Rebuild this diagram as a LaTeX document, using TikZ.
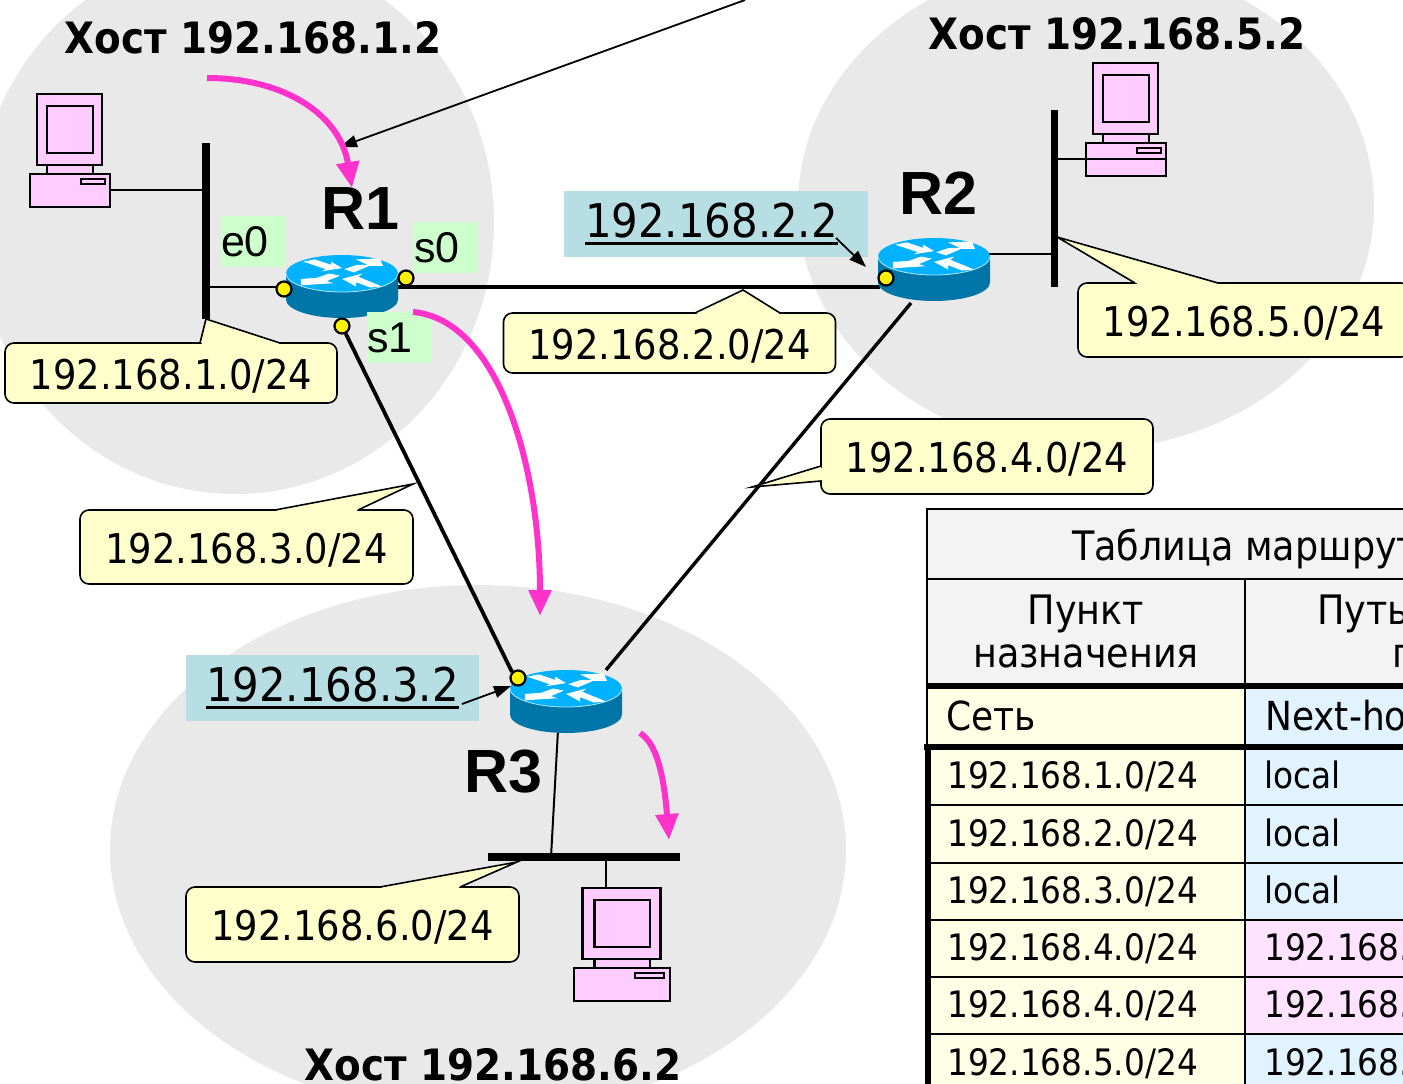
\documentclass[tikz,border=0pt]{standalone}
\usepackage{fontspec}
\usetikzlibrary{arrows.meta,calc}
\setmainfont{DejaVu Sans}[FakeStretch=0.9]
\newfontfamily\arialf{Liberation Sans}
\definecolor{hostgray}{HTML}{E9E9E9}
\definecolor{noteyellow}{HTML}{FFFFCC}
\definecolor{labelblue}{HTML}{B7DEE3}
\definecolor{labelgreen}{HTML}{CCFFCC}
\definecolor{pcpink}{HTML}{FFCCFF}
\definecolor{flowpink}{HTML}{FF33CC}
\definecolor{routertop}{HTML}{00B2FF}
\definecolor{routerside}{HTML}{0076A8}
\definecolor{headgray}{HTML}{F3F3F3}
\definecolor{celly}{HTML}{FFFFE5}
\definecolor{cellb}{HTML}{E1F3FF}
\definecolor{cellp}{HTML}{FFE2FF}
\newcommand{\fsz}[1]{\fontsize{#1}{#1}\selectfont}
\newcommand{\ulabel}[1]{\setbox0\hbox{#1}\rlap{\copy0}\rule[-7pt]{\wd0}{3pt}}
\newcommand{\notewedge}[3]{%
  \fill[noteyellow] #1 -- #2 -- #3 -- cycle;
  \draw[noteyellow,line width=3pt,shorten <=1.5pt,shorten >=1.5pt] #1 -- #3;
  \draw[line width=1.6pt,line join=miter] #1 -- #2 -- #3;}
\tikzset{
  x=1pt,y=-1pt,
  host/.style={fill=hostgray,draw=none},
  note/.style={draw,line width=1.6pt,fill=noteyellow,rounded corners=9pt,inner sep=0pt,text height=32pt,text depth=0pt,font=\fsz{41}},
  bar/.style={fill=black,draw=none,inner sep=0pt},
  thinlink/.style={line width=2pt},
  thicklink/.style={line width=3.8pt},
  port/.style={circle,fill=yellow,draw=black,line width=2.2pt,minimum size=15pt,inner sep=0pt},
  ifacelabel/.style={fill=labelgreen,minimum width=64pt,minimum height=51pt,inner sep=0pt,font=\arialf\fsz{43}},
  addrlabel/.style={fill=labelblue,inner sep=0pt,font=\fsz{46.5}},
  flow/.style={draw=flowpink,line width=6pt,-{Triangle[length=26pt,width=22pt]}},
  hosttitle/.style={inner sep=0pt,font=\bfseries\fsz{43.2}},
  rname/.style={inner sep=0pt,font=\arialf\bfseries\fsz{61}},
  tblline/.style={line width=2.8pt},
  tblthick/.style={line width=5.5pt},
  tbltext/.style={inner sep=0pt,anchor=base west,font=\fsz{36.4}},
  tblcenter/.style={inner sep=0pt,anchor=base,font=\fsz{40.6}},
  pointer/.style={line width=1.8pt,-{Triangle[length=17pt,width=12pt]}},
  router/.pic={
    \fill[routerside] (-56,0) -- (-56,26) arc[x radius=56,y radius=18.5,start angle=180,end angle=0] -- (56,0) -- cycle;
    \fill[routertop] (0,0) ellipse[x radius=56,y radius=18.5];
    \draw[white!70!routertop,line width=.8pt] (-56,0) arc[x radius=56,y radius=18.5,start angle=180,end angle=0];
    \begin{scope}[scale=1.08]
    \fill[white] (-36,-11) -- (-25,-13) -- (-10,-8) -- (-10,-11) -- (0,-5) -- (-19,-2) -- (-15,-4) -- cycle;
    \fill[white] (2,-4) -- (14,-8) -- (24,-8) -- (13,-13) -- (35,-14) -- (38,-7) -- (25,-7) -- (11,-1) -- cycle;
    \fill[white] (-2,2) -- (-14,7) -- (-8,9) -- (-24,10) -- (-38,11) -- (-38,5) -- (-23,4) -- (-12,0) -- cycle;
    \fill[white] (37,12) -- (26,13) -- (13,8) -- (13,12) -- (0,5) -- (19,0) -- (15,3) -- cycle;
    \end{scope}
  },
  pc/.pic={
    \begin{scope}[draw=black,fill=pcpink,line width=2.2pt]
    \filldraw (17,-10) rectangle (63,1);
    \filldraw (7,-80) rectangle (72,-9);
    \filldraw (17,-68) rectangle (63,-21);
    \filldraw (0,0) rectangle (80,33);
    \filldraw (51,5) rectangle (75,10);
    \end{scope}
    \coordinate (-east) at (80,16);
    \coordinate (-top) at (27,-80);
  }
}
\begin{document}
\begin{tikzpicture}
\useasboundingbox (0,0) rectangle (1403,1084);
\clip (0,0) rectangle (1403,1084);
% host areas
\fill[host] (235,222) ellipse[x radius=259,y radius=272];
\fill[host] (1086,205) ellipse[x radius=288,y radius=245];
\fill[host] (478,850) ellipse[x radius=368,y radius=265];
% table
\fill[headgray] (927,509) rectangle (1410,686);
\fill[celly] (927,686) rectangle (1245,1090);
\fill[cellb] (1245,686) rectangle (1410,920);
\fill[cellp] (1245,920) rectangle (1410,1034);
\fill[cellb] (1245,1034) rectangle (1410,1090);
\draw[tblline] (1410,509) -- (927,509) -- (927,747);
\draw[tblline] (927,579) -- (1410,579);
\draw[tblline] (1245,579) -- (1245,1090);
\foreach \ya in {805,863,920,977,1034}{\draw[tblline] (927,\ya) -- (1410,\ya);}
\draw[tblthick] (927,686) -- (1410,686);
\draw[tblthick] (924,747) -- (1410,747);
\draw[tblthick] (928,745) -- (928,1090);
\node[tblcenter,anchor=base west] (ttitle) at (1072,560) {Таблица маршрут};
\node[tblcenter] (tdest1) at (1086,624) {Пункт};
\node[tblcenter] (tdest2) at (1086,667) {назначения};
\node[tblcenter,anchor=base west] (tpath1) at (1317,624) {Путь};
\node[tblcenter,anchor=base west] (tpath2) at (1392,667) {п};
\node[tbltext,font=\fsz{40}] (tnet) at (946,730) {Сеть};
\node[tbltext,font=\fsz{40}] (tnext) at (1265,730) {Next-ho};
\node[tbltext] (n1) at (947,788) {192.168.1.0/24};
\node[tbltext] (n2) at (947,846) {192.168.2.0/24};
\node[tbltext] (n3) at (947,903) {192.168.3.0/24};
\node[tbltext] (n4) at (947,960) {192.168.4.0/24};
\node[tbltext] (n5) at (947,1017) {192.168.4.0/24};
\node[tbltext] (n6) at (947,1075) {192.168.5.0/24};
\node[tbltext] (h1) at (1264,788) {local};
\node[tbltext] (h2) at (1264,846) {local};
\node[tbltext] (h3) at (1264,903) {local};
\node[tbltext] (h4) at (1264,960) {192.168.};
\node[tbltext] (h5) at (1264,1017) {192.168.};
\node[tbltext] (h6) at (1264,1075) {192.168.};
% bars
\node[bar,minimum width=8pt,minimum height=176pt] (bar1) at (206,231) {};
\node[bar,minimum width=7pt,minimum height=177pt] (bar2) at (1054,198.5) {};
\node[bar,minimum width=192pt,minimum height=8pt] (bar3) at (584,857) {};
% computers
\pic (pc1) at (30,174) {pc};
\pic (pc2) at (1086,143) {pc};
\pic[xscale=1.2] (pc3) at (574,968) {pc};
\draw[thinlink] (pc1-east) -- (pc1-east -| bar1);
\draw[thinlink] (pc2-east) -- (pc2-east -| bar2);
\draw[thinlink] (pc3-top) -- (pc3-top |- bar3);
% router anchors
\coordinate (r1c) at (342,273.5);
\coordinate (r2c) at (934,256.5);
\coordinate (r3c) at (566,688.5);
\coordinate (r1east) at (398,287);
\coordinate (r2west) at (880,287);
\coordinate (r2low) at (911,303);
\coordinate (r3up) at (606,670);
\coordinate (r3low) at (558,730);
\coordinate (bar3top) at (551,857);
\coordinate (bar2r) at (1054,254);
\coordinate (r2r) at (985,254);
\coordinate (r1l) at (290,287);
\coordinate (bar1r) at (206,287);
% links
\draw[thinlink] (bar1r) -- (r1l);
\draw[thinlink] (r2r) -- (bar2r);
\draw[thinlink] (r3low) -- (bar3top);
\draw[thicklink] (r1east) -- (r2west);
\draw[line width=3.4pt] (r2low) -- (r3up);
\draw[thicklink] (342,326) -- (512,672);
% callouts
\node[note,minimum width=332pt,minimum height=60pt] (c1) at (171,373) {192.168.1.0/24};
\notewedge{(200,343)}{(206,319)}{(280,343)}
\node[note,minimum width=332pt,minimum height=60pt] (c2) at (669.5,343) {192.168.2.0/24};
\notewedge{(695,313)}{(743,290)}{(780,313)}
\node[note,minimum width=332pt,minimum height=74pt] (c3) at (1244,320) {192.168.5.0/24};
\notewedge{(1135,283)}{(1057,237)}{(1218,283)}
\node[note,minimum width=332pt,minimum height=75pt] (c4) at (987,456.5) {192.168.4.0/24};
\notewedge{(821,466)}{(752,487)}{(821,481)}
\node[note,minimum width=333pt,minimum height=74pt] (c5) at (246.5,547) {192.168.3.0/24};
\notewedge{(275,510)}{(413,484)}{(358,510)}
\node[note,minimum width=333pt,minimum height=75pt] (c6) at (352.5,924.5) {192.168.6.0/24};
\notewedge{(380,887)}{(517,862)}{(460,887)}
% routers
\pic at (r1c) {router};
\pic at (r2c) {router};
\pic at (r3c) {router};
% iface labels
\node[ifacelabel] (le0) at (253,241.5) {\hspace*{-16pt}\raisebox{-5pt}{e0}};
\node[ifacelabel] (ls0) at (445,247.5) {\hspace*{-16pt}\raisebox{-5pt}{s0}};
\node[ifacelabel] (ls1) at (399,337.5) {\hspace*{-18pt}\raisebox{-5pt}{s1}};
% ports
\node[port] (pe0) at (284,289) {};
\node[port] (ps0) at (406,278) {};
\node[port] (ps1) at (342,326) {};
\node[port] (pr2) at (886,278) {};
\node[port] (pr3) at (518,678) {};
% address labels
\node[addrlabel,minimum width=304pt,minimum height=66pt] (a2) at (716,224) {\ulabel{192.168.2.2}\hspace*{9pt}};
\node[addrlabel,minimum width=293pt,minimum height=66pt] (a3) at (332.5,688) {\ulabel{192.168.3.2}};
\coordinate (a2arrow) at (836,238);
\coordinate (a3arrow) at (462,704);
\draw[pointer] (a2arrow) -- (866,267);
\draw[pointer] (a3arrow) -- (511,686);
% long pointer
\coordinate (farend) at (745,0);
\coordinate (r1top) at (340,147);
\draw[pointer] (farend) -- (r1top);
% flows
\draw[flow] (207,78) .. controls (285,78) and (340,115) .. (352,188);
\draw[flow] (413,312) .. controls (500,320) and (540,470) .. (540,616);
\draw[flow] (640,733) .. controls (660,745) and (665,790) .. (669,840);
% titles
\node[hosttitle] (t1) at (253,38) {Хост 192.168.1.2};
\node[hosttitle] (t2) at (1117,34) {Хост 192.168.5.2};
\node[hosttitle] (t3) at (493,1065) {Хост 192.168.6.2};
\node[rname] (nr1) at (360,209) {R1};
\node[rname] (nr2) at (938,193) {R2};
\node[rname] (nr3) at (503,772) {R3};
\end{tikzpicture}
\end{document}
